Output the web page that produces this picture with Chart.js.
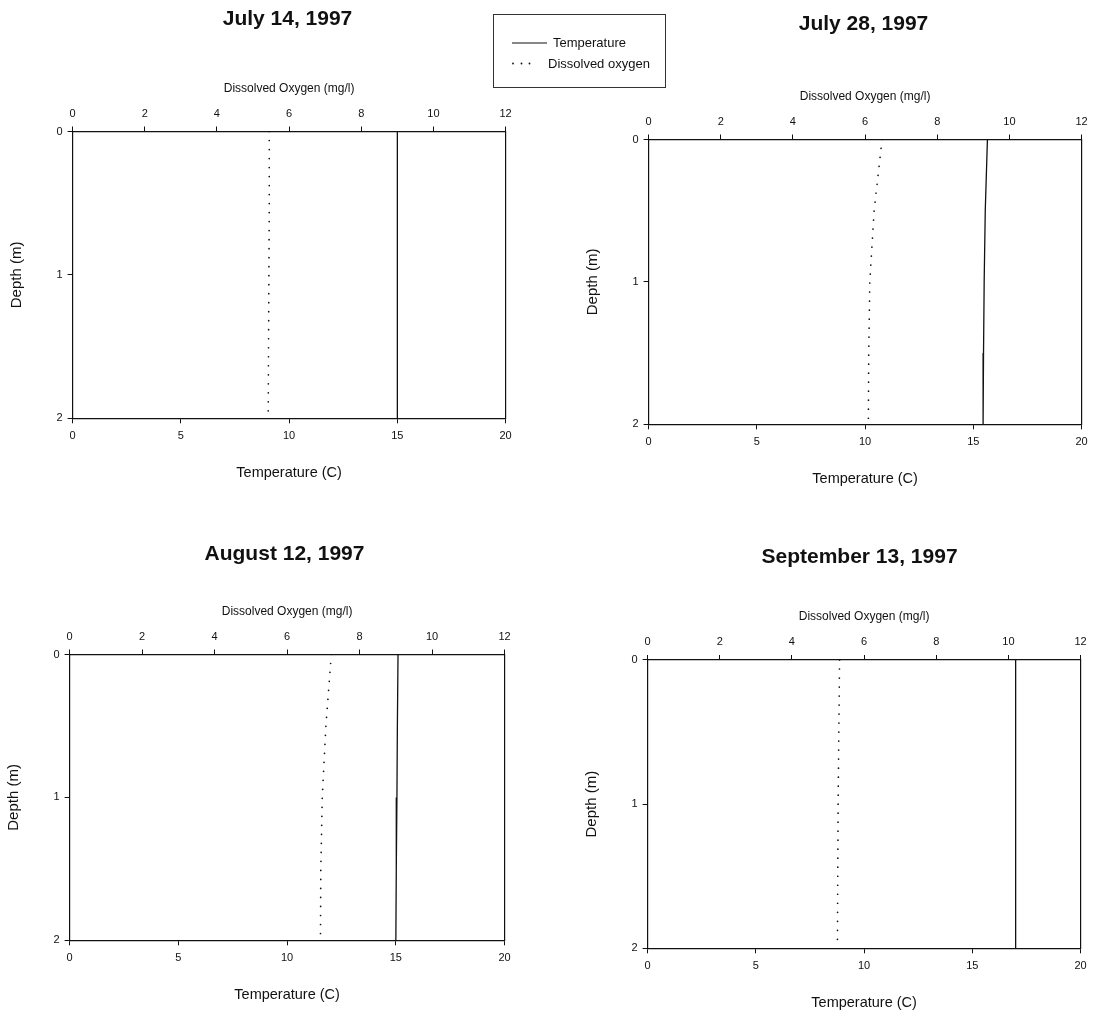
<!DOCTYPE html>
<html>
<head>
<meta charset="utf-8">
<script src="https://cdn.jsdelivr.net/npm/chart.js@4.4.1/dist/chart.umd.min.js"></script>
<style>
html, body { margin:0; padding:0; background:#fff; overflow:hidden; width:1097px; height:1015px; }
canvas { position:absolute; }
#legend { position:absolute; left:493px; top:14px; width:173px; height:74px; border:1px solid #333; box-sizing:border-box;
  font-family:'Liberation Sans', Arial, sans-serif; font-size:13px; color:#111; }
#legend span { position:absolute; white-space:nowrap; line-height:15px; }
</style>
</head>
<body>
<canvas id="c1"></canvas>
<canvas id="c2"></canvas>
<canvas id="c3"></canvas>
<canvas id="c4"></canvas>
<div id="legend">
  <svg width="171" height="72" style="position:absolute;left:0;top:0">
    <line x1="18" y1="28" x2="53" y2="28" stroke="#111" stroke-width="1.2"/>
    <circle cx="19" cy="48.5" r="0.9" fill="#111"/>
    <circle cx="27.5" cy="48.5" r="0.9" fill="#111"/>
    <circle cx="35.5" cy="48.5" r="0.9" fill="#111"/>
  </svg>
  <span id="lgT" style="left:59px;top:20px"></span>
  <span id="lgD" style="left:54px;top:41px"></span>
</div>
<script>
// ---- data ----
const panelTitles = ['July 14, 1997', 'July 28, 1997', 'August 12, 1997', 'September 13, 1997'];
const seriesNames = ['Temperature', 'Dissolved oxygen'];
const depthM = [0, 0.5, 1, 1.5, 2];
const tempJul14 = [15.0, 15.0, 15.0, 15.0, 15.0];
const doJul14   = [5.45, 5.45, 5.44, 5.43, 5.42];
const tempJul28 = [15.65, 15.55, 15.5, 15.47, 15.45];
const doJul28   = [6.47, 6.25, 6.13, 6.10, 6.09];
const tempAug12 = [15.1, 15.07, 15.05, 15.02, 15.0];
const doAug12   = [7.22, 7.07, 6.97, 6.93, 6.92];
const tempSep13 = [17.0, 17.0, 17.0, 17.0, 17.0];
const doSep13   = [5.32, 5.30, 5.28, 5.27, 5.26];
const tempTicks  = [0, 5, 10, 15, 20];
const doTicks    = [0, 2, 4, 6, 8, 10, 12];
const depthTicks = [0, 1, 2];
const tempAxisTitle = 'Temperature (C)';
const doAxisTitle = 'Dissolved Oxygen (mg/l)';
const depthAxisTitle = 'Depth (m)';

// ---- layout (plot-area boxes and title centres, page pixels) ----
const layoutBoxes = [
  { l: 73,  r: 506,  t: 131, b: 418, tx: 288, ty: 18.5 },
  { l: 649, r: 1082, t: 139, b: 424, tx: 864, ty: 23.5 },
  { l: 70,  r: 505,  t: 654, b: 940, tx: 285, ty: 553.5 },
  { l: 648, r: 1081, t: 660, b: 948, tx: 860, ty: 557 }
];

document.getElementById('lgT').textContent = seriesNames[0];
document.getElementById('lgD').textContent = seriesNames[1];

Chart.defaults.font.family = "'Liberation Sans', Arial, sans-serif";
Chart.defaults.color = '#111';

const INK = '#111';
const TITLE_SIZE = 21;
const SIDE_TITLE_SIZE = 15;
const BOTTOM_TITLE_SIZE = 14.5;

function makePanel(id, title, temps, dos, g) {
  const Wl = 64 + (SIDE_TITLE_SIZE * 1.2 / 2 - 8.4);
  const Ht = 50.2;
  const Hb = 55 + BOTTOM_TITLE_SIZE * 1.2 / 2;
  const cx = g.l - Wl, cy = g.ty - 30;
  const W = Math.round(2 * (g.tx - cx));
  const Wr = cx + W - g.r;
  const H = Math.round(g.b + Hb - cy);
  const tLH = TITLE_SIZE * 1.2;
  const pt = 30 - tLH / 2;
  const pb = (g.t - Ht - cy) - tLH - pt;
  const cv = document.getElementById(id);
  cv.width = W; cv.height = H;
  cv.style.left = cx + 'px'; cv.style.top = cy + 'px';

  const tickFont = { size: 11 };
  const gridOpts = { display: true, drawOnChartArea: false, drawTicks: true, tickLength: 5, color: INK, lineWidth: 1 };
  const borderOpts = { display: true, color: INK, width: 1.2 };

  new Chart(cv, {
    type: 'scatter',
    data: {
      datasets: [
        {
          label: seriesNames[0],
          data: depthM.map((d, i) => ({ x: temps[i], y: d })),
          xAxisID: 'x', yAxisID: 'y',
          showLine: true, borderColor: INK, borderWidth: 1.3,
          pointRadius: 0, tension: 0
        },
        {
          label: seriesNames[1],
          data: depthM.map((d, i) => ({ x: dos[i], y: d })),
          xAxisID: 'x2', yAxisID: 'y',
          showLine: true, borderColor: INK, borderWidth: 1.7,
          borderDash: [0.01, 9], borderCapStyle: 'round',
          pointRadius: 0, tension: 0
        }
      ]
    },
    options: {
      responsive: false, animation: false, events: [],
      layout: { padding: 0 },
      plugins: {
        legend: { display: false },
        tooltip: { enabled: false },
        title: { display: true, text: title, color: INK,
                 font: { size: TITLE_SIZE, weight: 'bold' }, padding: { top: pt, bottom: pb } }
      },
      scales: {
        x: {
          type: 'linear', axis: 'x', position: 'bottom',
          min: tempTicks[0], max: tempTicks[tempTicks.length - 1],
          ticks: { stepSize: tempTicks[1] - tempTicks[0], font: tickFont, color: INK, padding: 6, maxRotation: 0 },
          grid: gridOpts, border: borderOpts,
          title: { display: true, text: tempAxisTitle, color: INK, font: { size: BOTTOM_TITLE_SIZE }, padding: { top: 0, bottom: 0 } },
          afterFit: s => { s.height = Hb; s.paddingLeft = 0; s.paddingRight = 0; }
        },
        x2: {
          type: 'linear', axis: 'x', position: 'top',
          min: doTicks[0], max: doTicks[doTicks.length - 1],
          ticks: { stepSize: doTicks[1] - doTicks[0], font: tickFont, color: INK, padding: 6, maxRotation: 0 },
          grid: gridOpts, border: borderOpts,
          title: { display: true, text: doAxisTitle, color: INK, font: { size: 12 }, padding: { top: 0, bottom: 0 } },
          afterFit: s => { s.height = Ht; s.paddingLeft = 0; s.paddingRight = 0; }
        },
        y: {
          type: 'linear', axis: 'y', position: 'left', reverse: true,
          min: depthTicks[0], max: depthTicks[depthTicks.length - 1],
          ticks: { stepSize: depthTicks[1] - depthTicks[0], font: tickFont, color: INK, padding: 5 },
          grid: gridOpts, border: borderOpts,
          title: { display: true, text: depthAxisTitle, color: INK, font: { size: SIDE_TITLE_SIZE }, padding: { top: 0, bottom: 0 } },
          afterFit: s => { s.width = Wl; s.paddingTop = 0; s.paddingBottom = 0; }
        },
        yR: {
          type: 'linear', axis: 'y', position: 'right', reverse: true,
          min: depthTicks[0], max: depthTicks[depthTicks.length - 1],
          ticks: { display: false },
          grid: { display: false, drawOnChartArea: false },
          border: borderOpts,
          afterFit: s => { s.width = Wr; s.paddingTop = 0; s.paddingBottom = 0; }
        }
      }
    }
  });
}

makePanel('c1', panelTitles[0], tempJul14, doJul14, layoutBoxes[0]);
makePanel('c2', panelTitles[1], tempJul28, doJul28, layoutBoxes[1]);
makePanel('c3', panelTitles[2], tempAug12, doAug12, layoutBoxes[2]);
makePanel('c4', panelTitles[3], tempSep13, doSep13, layoutBoxes[3]);
</script>
</body>
</html>
